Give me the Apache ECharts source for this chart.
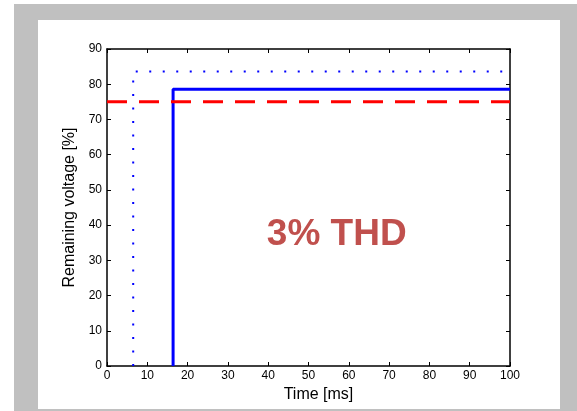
<!DOCTYPE html>
<html>
<head>
<meta charset="utf-8">
<script src="https://cdn.jsdelivr.net/npm/echarts@6/dist/echarts.min.js"></script>
<style>
  html, body { margin: 0; padding: 0; background: #ffffff; }
  body { width: 577px; height: 411px; position: relative; overflow: hidden; }
  #frame { position: absolute; left: 14px; top: 4px; width: 563px; height: 407px; background: #c0c0c0; }
  #chart { position: absolute; left: 38px; top: 20px; width: 522px; height: 389px; background: #ffffff; }
</style>
</head>
<body>
<div id="frame"></div>
<div id="chart"></div>
<script>
// Axis ranges and tick steps
const xRange = [0, 100];
const xStep = 10;
const yRange = [0, 90];
const yStep = 10;

// Response curves: time [ms] vs remaining voltage [%]
const dottedTime = [6.5, 6.5, 100];
const dottedVoltage = [0, 83.6, 83.6];
const solidTime = [16.4, 16.4, 100];
const solidVoltage = [0, 78.6, 78.6];
const limitTime = [0, 100];
const limitVoltage = [75, 75];

// Annotation
const noteText = '3% THD';
const notePos = [57, 37.3];

const pairs = (xs, ys) => xs.map((x, i) => [x, ys[i]]);

const font = '"Liberation Sans", Arial, sans-serif';
const black = '#000000';

const baseAxis = {
  type: 'value',
  axisLine: { show: true, onZero: false, lineStyle: { color: black, width: 1.5 } },
  axisTick: { show: true, inside: true, length: 4, lineStyle: { color: black, width: 1 } },
  splitLine: { show: false },
  axisLabel: { color: black, fontFamily: font, fontSize: 12 }
};

const chart = echarts.init(document.getElementById('chart'), null, { renderer: 'canvas' });

chart.setOption({
  animation: false,
  backgroundColor: '#ffffff',
  grid: { left: 69, right: 50, top: 29, bottom: 43, containLabel: false },
  xAxis: [
    Object.assign({}, baseAxis, {
      position: 'bottom', min: xRange[0], max: xRange[1], interval: xStep,
      axisLabel: Object.assign({}, baseAxis.axisLabel, { margin: 4 }),
      name: 'Time [ms]', nameLocation: 'middle', nameGap: 17,
      nameTextStyle: { color: black, fontFamily: font, fontSize: 16, padding: [0, 0, 0, 20] }
    }),
    Object.assign({}, baseAxis, {
      position: 'top', min: xRange[0], max: xRange[1], interval: xStep,
      axisLabel: { show: false }
    })
  ],
  yAxis: [
    Object.assign({}, baseAxis, {
      position: 'left', min: yRange[0], max: yRange[1], interval: yStep,
      axisLabel: Object.assign({}, baseAxis.axisLabel, { margin: 5 }),
      name: 'Remaining voltage [%]', nameLocation: 'middle', nameGap: 28,
      nameTextStyle: { color: black, fontFamily: font, fontSize: 16 }
    }),
    Object.assign({}, baseAxis, {
      position: 'right', min: yRange[0], max: yRange[1], interval: yStep,
      axisLabel: { show: false }
    })
  ],
  series: [
    {
      type: 'line', data: pairs(dottedTime, dottedVoltage), symbol: 'none',
      lineStyle: { color: '#0000ff', width: 2, type: [2, 11.5] }
    },
    {
      type: 'line', data: pairs(solidTime, solidVoltage), symbol: 'none',
      lineStyle: { color: '#0000ff', width: 3 }
    },
    {
      type: 'line', data: pairs(limitTime, limitVoltage), symbol: 'none',
      lineStyle: { color: '#ff0000', width: 3, type: [20, 12] }
    },
    {
      type: 'scatter', data: [notePos], symbolSize: 0, silent: true,
      itemStyle: { opacity: 1 },
      label: {
        show: true, position: 'inside', formatter: noteText, opacity: 1,
        color: '#c0504d', fontFamily: font, fontWeight: 'bold', fontSize: 37
      }
    }
  ]
});
</script>
</body>
</html>
